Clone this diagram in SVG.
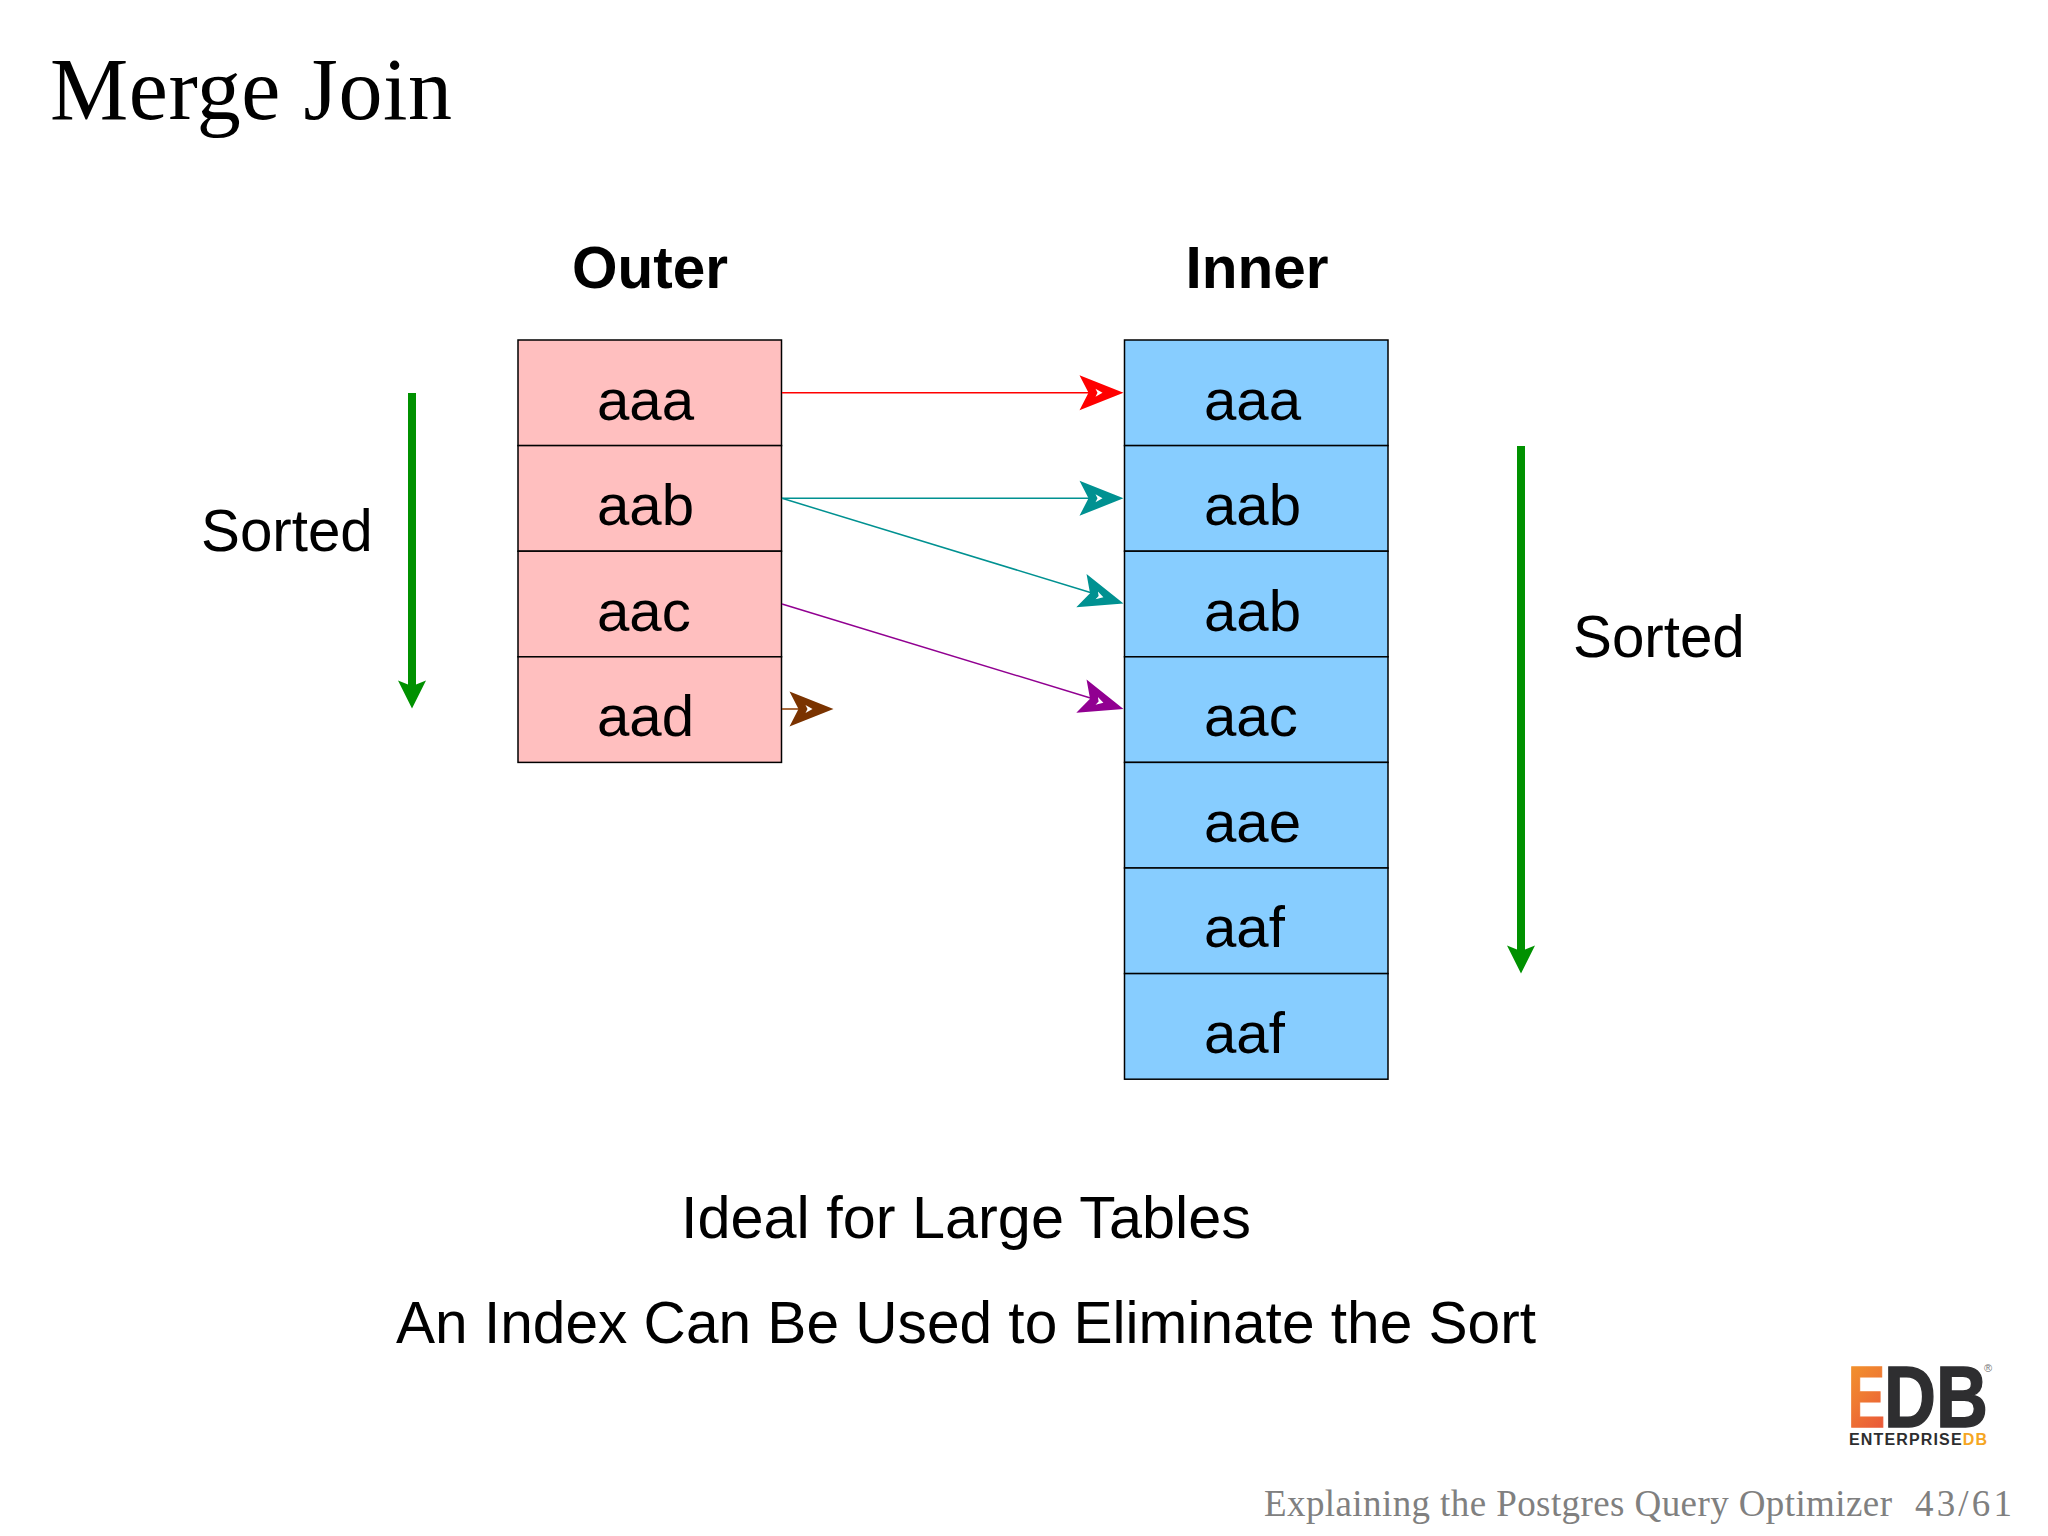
<svg xmlns="http://www.w3.org/2000/svg" width="2048" height="1536" viewBox="0 0 2048 1536">
<defs>
<style>
text{font-family:"Liberation Sans",Arial,sans-serif;fill:#000}
.cell{font-size:58.2px}
.hd{font-size:58.5px;font-weight:bold;text-anchor:middle}
.lb{font-size:58.3px}
.mid{font-size:58.6px;text-anchor:middle}
.pink{fill:#ffbfbf;stroke:#000;stroke-width:1.5}
.blue{fill:#87cdff;stroke:#000;stroke-width:1.5}
.serif{font-family:"Liberation Serif","Times New Roman",serif}
.foot{font-size:37px;fill:#808080}
</style>
<linearGradient id="eg" x1="0" y1="0" x2="0.4" y2="1"><stop offset="0" stop-color="#f39c2a"/><stop offset="0.55" stop-color="#ef7b32"/><stop offset="1" stop-color="#ea5a38"/></linearGradient>
<path id="head" d="M0 0L-44 -17.5L-35 0L-44 17.5Z M-28 -4L-21 0L-28 4L-26 0Z" fill-rule="evenodd"/>
</defs>
<rect width="2048" height="1536" fill="#fff"/>
<text class="serif" x="50" y="118.5" font-size="88" textLength="402" lengthAdjust="spacing">Merge Join</text>
<g id="outer">
<text class="hd" x="650" y="287.6">Outer</text>
<g id="o1"><rect class="pink" x="518" y="340" width="263.5" height="105.6"/><text class="cell" x="597" y="419.5">aaa</text></g>
<g id="o2"><rect class="pink" x="518" y="445.6" width="263.5" height="105.6"/><text class="cell" x="597" y="525">aab</text></g>
<g id="o3"><rect class="pink" x="518" y="551.2" width="263.5" height="105.6"/><text class="cell" x="597" y="630.6">aac</text></g>
<g id="o4"><rect class="pink" x="518" y="656.8" width="263.5" height="105.6"/><text class="cell" x="597" y="736">aad</text></g>
</g>
<g id="inner">
<text class="hd" x="1257" y="287.6">Inner</text>
<g id="i1"><rect class="blue" x="1124.5" y="340" width="263.5" height="105.6"/><text class="cell" x="1204" y="419.5">aaa</text></g>
<g id="i2"><rect class="blue" x="1124.5" y="445.6" width="263.5" height="105.6"/><text class="cell" x="1204" y="525">aab</text></g>
<g id="i3"><rect class="blue" x="1124.5" y="551.2" width="263.5" height="105.6"/><text class="cell" x="1204" y="630.6">aab</text></g>
<g id="i4"><rect class="blue" x="1124.5" y="656.8" width="263.5" height="105.6"/><text class="cell" x="1204" y="736">aac</text></g>
<g id="i5"><rect class="blue" x="1124.5" y="762.4" width="263.5" height="105.6"/><text class="cell" x="1204" y="842">aae</text></g>
<g id="i6"><rect class="blue" x="1124.5" y="868" width="263.5" height="105.6"/><text class="cell" x="1204" y="947">aaf</text></g>
<g id="i7"><rect class="blue" x="1124.5" y="973.6" width="263.5" height="105.6"/><text class="cell" x="1204" y="1052.6">aaf</text></g>
</g>
<g id="connectors" stroke-width="1.5" fill="none">
<line x1="782" y1="392.7" x2="1092" y2="392.7" stroke="#ff0000"/>
<use href="#head" transform="translate(1123.5 392.7)" fill="#ff0000" stroke="none"/>
<line x1="782" y1="498.3" x2="1092" y2="498.3" stroke="#009191"/>
<use href="#head" transform="translate(1123.5 498.3)" fill="#009191" stroke="none"/>
<line x1="782" y1="498.3" x2="1092" y2="593" stroke="#009191"/>
<use href="#head" transform="translate(1123.5 603.5) rotate(17)" fill="#009191" stroke="none"/>
<line x1="782" y1="604" x2="1092" y2="698.5" stroke="#910091"/>
<use href="#head" transform="translate(1123.5 709) rotate(17)" fill="#910091" stroke="none"/>
<line x1="782" y1="709" x2="800" y2="709" stroke="#8b3a00"/>
<use href="#head" transform="translate(833.5 709)" fill="#7a3300" stroke="none"/>
<path d="M412 393V688" stroke="#009100" stroke-width="8"/>
<path d="M412 708.5L398 680.5L408 684.5H416L426 680.5Z" fill="#009100" stroke="none"/>
<path d="M1521 446V952" stroke="#009100" stroke-width="8"/>
<path d="M1521 973.5L1507 945.5L1517 949.5H1525L1535 945.5Z" fill="#009100" stroke="none"/>
</g>
<text class="lb" x="201" y="551">Sorted</text>
<text class="lb" x="1573" y="657">Sorted</text>
<text class="mid" x="966" y="1238" style="font-size:59.4px">Ideal for Large Tables</text>
<text class="mid" x="966" y="1343">An Index Can Be Used to Eliminate the Sort</text>
<g id="logo">
<text x="1848" y="1427" font-size="87" font-weight="bold" textLength="37" lengthAdjust="spacingAndGlyphs" stroke="url(#eg)" stroke-width="1.5" style="fill:url(#eg)">E</text>
<text x="1884" y="1427" font-size="87" font-weight="bold" textLength="104" lengthAdjust="spacingAndGlyphs" stroke="#2e2e30" stroke-width="1.5" style="fill:#2e2e30">DB</text>
<text x="1984" y="1372" font-size="11" style="fill:#777">®</text>
<text x="1849" y="1445" font-size="16" font-weight="bold" textLength="138" lengthAdjust="spacing" style="fill:#2e2e30">ENTERPRISE<tspan style="fill:#f5a623">DB</tspan></text>
</g>
<text class="serif foot" x="1264" y="1515.5" textLength="628" lengthAdjust="spacing">Explaining the Postgres Query Optimizer</text>
<text class="serif foot" x="1915" y="1515.5" textLength="97" lengthAdjust="spacing">43/61</text>
</svg>
